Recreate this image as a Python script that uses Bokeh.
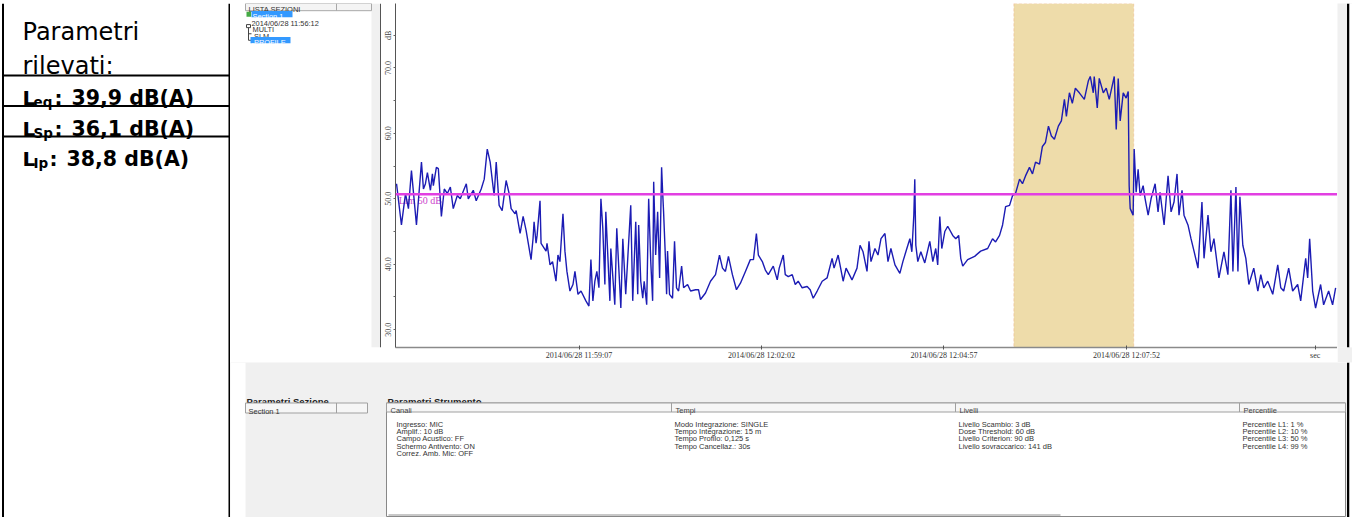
from bokeh.plotting import figure
from bokeh.layouts import row, column
from bokeh.models import Range1d, FixedTicker, BoxAnnotation, Span
from bokeh.core.properties import value
from bokeh.embed import file_html
from bokeh.resources import INLINE

# ---------------- data ----------------
t_sec = [1, 5.7, 9.6, 12.4, 15.3, 20.1, 24.9, 26.8, 28.7, 30.6, 33.5, 35.4, 36.3, 39.2, 41.1, 44, 46.8, 49.7,
         52.6, 55.4, 59.3, 62.1, 67.9, 69.8, 74.6, 77.4, 82.2, 85.1, 88, 90.8, 92.7, 94.6, 96.6, 99.4, 102.3,
         106.1, 109, 110.9, 114.7, 115.7, 119.5, 122.4, 125.2, 130, 131.9, 132.9, 134.8, 135.8, 138.6, 139.6,
         144.4, 145.3, 148.2, 150.6, 153.9, 155.8, 157.7, 160.6, 162.5, 164.4, 167.3, 170.2, 172.1, 175, 177.9,
         182.6, 185.5, 187.4, 189.3, 191.2, 193.1, 195.1, 197, 198.8, 200.8, 201.7, 205.6, 206.5, 210.3, 212.2,
         216.1, 218, 220.8, 225.6, 227.5, 230.4, 232.3, 233.2, 235.2, 237.1, 238.5, 240.9, 242.8, 244.8, 246.6,
         247.6, 249.5, 251.4, 252.4, 253.3, 255.2, 256.2, 257.1, 259, 260, 260.9, 262.8, 265.7, 267.6, 269.5,
         271.5, 274.4, 276.3, 280.1, 283, 287.8, 290.6, 292.5, 297.3, 302.1, 306.9, 310.7, 313.6, 316.4, 319.3,
         323.1, 327, 330.8, 335.6, 340.3, 343.3, 346.1, 348, 351.8, 354.7, 357.5, 362.3, 366.1, 368, 371.9,
         373.8, 376.7, 380.5, 383.4, 386.2, 390, 394.8, 397.7, 400.6, 404.4, 409.2, 413.9, 418.7, 420.6, 424.5,
         429.3, 432.1, 437.8, 442.6, 445.5, 448.4, 452.2, 454.1, 456, 459.8, 462.7, 465.6, 469.4, 472.3, 475.1,
         479, 483.7, 486.6, 490.4, 493.3, 495.2, 497.1, 498, 499, 500.9, 503.8, 507.6, 512.4, 515.3, 518.1, 520,
         522, 523.9, 526.8, 529.6, 534.4, 537.3, 540.1, 542.1, 544, 548.7, 555.4, 561.2, 567.9, 572.6, 575.5,
         579.3, 582.2, 585.1, 588.9, 591.8, 594.6, 598.5, 601.3, 604.2, 608, 610.9, 613.8, 617.6, 620.4, 623.3,
         626.2, 629, 631.9, 635.7, 638.6, 641.5, 643.4, 646.3, 649.1, 652, 655.8, 660.6, 664.4, 666.3, 669.2,
         670.1, 673, 674.9, 678.8, 681.6, 684.5, 689.3, 691.2, 693.1, 695, 697.9, 700.7, 702.7, 703.6, 704.6,
         707.4, 708.4, 710.3, 712.2, 714.1, 717, 718.9, 721.8, 724.6, 728.5, 731.3, 733.2, 737.1, 740.9, 743.8,
         746.6, 749.5, 751.4, 754.3, 756.2, 760, 762.9, 765.8, 769.6, 773.4, 775.4, 779.2, 782, 784.9, 789.7,
         794.5, 798.3, 801.2, 803.1, 806, 807.9, 809.8, 812.6, 815.5, 818.4, 823.1, 827, 829.8, 832.7, 836.5,
         841.3, 846.1, 849, 851.8, 856.6, 860.4, 865.2, 868.1, 872.9, 874.8, 876.7, 879.6, 882.4, 887.2, 890.1,
         894.9, 898.7, 901.6]
level_db = [52.3, 46, 50.8, 48.5, 54.3, 46, 55.6, 51.5, 52.3, 54, 51.3, 53.8, 52.0, 54.8, 54.6, 47.3, 51.5, 50.8,
            51.8, 48.5, 50.5, 50, 52.3, 50, 51.3, 49.7, 51.5, 53, 57.6, 55.6, 53, 50.5, 55.6, 49, 48.2,
            52.8, 50.8, 48.5, 47.7, 48.2, 44.7, 47.3, 45.2, 40.7, 43.9, 46.5, 43.2, 44.4, 49.7, 43.2,
            42, 43.2, 39.9, 40.4, 37.4, 41.4, 40.4, 47.7, 42, 38.9, 35.9, 36.9, 38.9, 35.4, 35.9,
            34.4, 33.6, 40.7, 34.4, 37.4, 38.9, 36.4, 50, 45.5, 36.9, 48, 34.4, 42.4, 33.8, 45.5,
            33.3, 43.9, 35.4, 49, 34.4, 46.5, 35.4, 46, 37.4, 34.8, 37.4, 33.8, 50, 40.4, 34.4,
            52.6, 41.4, 48, 42.9, 37.9, 54.8, 51, 48, 40.4, 35.4, 42, 35.4, 34.8, 43.5, 36.4,
            35.9, 39.7, 36.4, 36.9, 35.9, 36.1, 36.1, 34.6, 35.6, 37.4, 38.4, 41.4, 39.4, 38.9, 41.2,
            38.4, 36.1, 37.1, 38.9, 40.7, 40.7, 44.7, 41.4, 40.4, 39.1, 38.4, 39.7, 37.6, 39.4, 41.4,
            38.4, 38.1, 38.4, 36.9, 37.4, 36.4, 36.6, 36.1, 34.8, 35.9, 37.4, 37.9, 40.9, 39.4, 41.4,
            37.4, 39.4, 37.6, 39.4, 42.9, 41.9, 38.9, 43.5, 40.4, 42.4, 41.4, 43.9, 44.7, 40.4, 42.4,
            39.9, 38.6, 40.4, 42.4, 43.9, 41.9, 47.5, 53, 42.9, 40.4, 41.9, 40.2, 43.5, 40.4, 42.4, 39.9,
            47.3, 42.4, 45, 45.8, 44.4, 43.9, 44.4, 40.9, 39.7, 40.7, 41.2, 42, 42.4, 43.9, 43.4,
            44.4, 46, 48.8, 49, 50.5, 50.8, 53, 52.3, 53.5, 54.8, 53.8, 55.6, 55.3, 58, 58.6,
            61.1, 59.6, 59.1, 61.1, 61.9, 65.2, 62.6, 66.2, 64.6, 66.9, 66.2, 65.2, 68, 68.7, 66.2,
            68.7, 63.9, 68.4, 66.2, 66.9, 65.2, 68.7, 60.6, 68.4, 61.9, 66.2, 65.4, 66.4, 52, 48.5,
            47.5, 57.6, 51, 54.5, 50.5, 52, 50, 47.5, 50, 52.3, 48, 51, 46, 53.5, 48,
            49.5, 53.8, 47.5, 51.3, 47.5, 46, 43.9, 42, 39.4, 49.5, 40.9, 47.5, 41.9, 43.9, 37.9,
            41.9, 38.4, 51.3, 38.9, 51.8, 38.9, 50.3, 42.9, 40.9, 36.9, 39.4, 35.9, 38.4, 36.4, 37.4,
            35.4, 39.9, 36.4, 35.9, 39.4, 35.9, 36.9, 34.4, 40.9, 37.9, 43.9, 35.9, 33.3, 36.9, 33.8,
            35.9, 33.8, 36.4]

limit_db = 50.7
selection_sec = [593, 708]
x_tick_sec = [176, 351, 526, 701, 882]
x_tick_labels = ["2014/06/28 11:59:07", "2014/06/28 12:02:02", "2014/06/28 12:04:57", "2014/06/28 12:07:52", "sec"]
y_tick_db = [30, 40, 50, 60, 70, 75]
y_tick_labels = ["30.0", "40.0", "50.0", "60.0", "70.0", "dB"]
y_minor_db = [35, 45, 55, 65]

param_names = ["L", "L", "L"]
param_subs = ["eq", "Sp", "Ip"]
param_values = ["39,9 dB(A)", "36,1 dB(A)", "38,8 dB(A)"]

canali = ["Ingresso: MIC", "Amplif.: 10 dB", "Campo Acustico: FF", "Schermo Antivento: ON", "Correz. Amb. Mic: OFF"]
tempi = ["Modo Integrazione: SINGLE", "Tempo Integrazione:  15 m", "Tempo Profilo: 0,125 s", "Tempo Cancellaz.: 30s"]
livelli = ["Livello Scambio:  3 dB", "Dose Threshold: 60 dB", "Livello Criterion:    90 dB", "Livello sovraccarico: 141 dB"]
percentile = ["Percentile L1:  1 %", "Percentile L2:  10 %", "Percentile L3:  50 %", "Percentile L4:  99 %"]
tree_items = ["Section 1", "2014/06/28 11:56:12", "MULTI", "-SLM", "-PROFILE"]

GREY = "#f0f0f0"
W, H = 1352, 517


def deco(x0, x1, y0, y1, bg="white"):
    f = figure(width=int(round(x1 - x0)), height=int(round(y1 - y0)),
               x_range=Range1d(x0, x1), y_range=Range1d(y1, y0),
               toolbar_location=None, output_backend="svg", min_border=0,
               x_axis_location=None, y_axis_location=None,
               background_fill_color=bg, border_fill_color=bg, outline_line_color=None)
    f.xgrid.visible = False
    f.ygrid.visible = False
    return f


def box(f, l, r, t, b, fill, line=None, lw=1):
    f.quad(left=[l], right=[r], top=[t], bottom=[b], fill_color=fill,
           line_color=line, line_width=lw)


def txt(f, x, y, s, size, color="#222222", font="Liberation Sans", style="normal",
        align="left", baseline="alphabetic"):
    f.text(x=[x], y=[y], text=[s], text_font=value(font), text_font_size=value(size),
           text_font_style=style, text_color=color, text_align=align, text_baseline=baseline)


TOP = 3
SPLIT = 362

# ---------------- top border ----------------
topbar = deco(0, W, 0, TOP, bg="black")

# ---------------- left column ----------------
left = deco(0, 230, TOP, H)
box(left, 1.5, 3.5, TOP, H, "black")
box(left, 228, 230, TOP, H, "black")
for yy in [75, 105.5, 136]:
    box(left, 1.5, 229, yy - 1, yy + 1, "black")
txt(left, 22, 31.5, "Parametri", "24px", "#000000", "DejaVu Sans")
txt(left, 22, 65, "rilevati:", "24px", "#000000", "DejaVu Sans")
base_y = [97.3, 128.3, 158.3]
sub_x = [33, 33, 33]
colon_x = [54, 54, 49]
val_x = [71, 71, 66]
for i in range(3):
    txt(left, 22, base_y[i], param_names[i], "20px", "#000000", "DejaVu Sans", "bold")
    txt(left, sub_x[i], base_y[i] + 4, param_subs[i], "13.5px", "#000000", "DejaVu Sans", "bold")
    txt(left, colon_x[i], base_y[i], ":", "20px", "#000000", "DejaVu Sans", "bold")
    txt(left, val_x[i], base_y[i], param_values[i], "20.5px", "#000000", "DejaVu Sans", "bold")

# ---------------- section list panel ----------------
lista = deco(230, 381, TOP, SPLIT)
box(lista, 371, 379.5, TOP, SPLIT, GREY)
box(lista, 379.5, 381, TOP, SPLIT, "#555555")
box(lista, 245, 371, TOP, 10.5, "#f4f4f4", "#a8a8a8", 1)
lista.segment(x0=[336], y0=[TOP], x1=[336], y1=[10.5], line_color="#a8a8a8")
txt(lista, 248, 9.3, "LISTA SEZIONI", "7.5px", "#333333")
tree_y = [14.2, 21, 27.8, 34.6, 41.4]
box(lista, 246, 250.5, tree_y[0] - 2.5, tree_y[0] + 2.5, "#44aa44")
box(lista, 251, 292, tree_y[0] - 3.4, tree_y[0] + 3.2, "#3399ff")
txt(lista, 252, tree_y[0] + 2.6, tree_items[0], "7.4px", "white")
txt(lista, 251, tree_y[1] + 2.6, tree_items[1], "7.4px", "#333333")
box(lista, 246, 250, tree_y[2] - 2.8, tree_y[2] + 0.4, "white", "#444444", 1)
lista.segment(x0=[248, 248, 248], y0=[tree_y[2] + 0.4, tree_y[3], tree_y[4]],
              x1=[248, 251, 251], y1=[tree_y[4], tree_y[3], tree_y[4]], line_color="#444444")
txt(lista, 252, tree_y[2] + 2.6, tree_items[2], "7.4px", "#333333")
txt(lista, 251, tree_y[3] + 2.6, tree_items[3], "7.4px", "#333333")
box(lista, 250, 290, tree_y[4] - 3.4, tree_y[4] + 3.2, "#3399ff")
txt(lista, 251, tree_y[4] + 2.6, tree_items[4], "7.4px", "white")

# ---------------- chart ----------------
chart = figure(width=1337 - 381, height=SPLIT - TOP, x_range=Range1d(0, 903.4), y_range=Range1d(27.27, 79.85),
               toolbar_location=None, output_backend="svg",
               min_border=0, min_border_left=11, min_border_bottom=12,
               background_fill_color="white", border_fill_color="white", outline_line_color=None)
chart.xgrid.visible = False
chart.ygrid.visible = False
chart.add_layout(BoxAnnotation(left=selection_sec[0], right=selection_sec[1], fill_color="#eedcaa",
                               fill_alpha=1, line_color="#e8905a", line_dash="3 2", line_width=1,
                               level="underlay"))
chart.add_layout(Span(location=limit_db, dimension="width", line_color="#e23fe2", line_width=2.5))
chart.text(x=[3], y=[limit_db - 0.9], text=["Lim 50 dB"], text_font=value("Liberation Serif"),
           text_font_size=value("10px"), text_color="#cc44cc", text_baseline="middle")
chart.line(t_sec, level_db, line_color="#1c1cb4", line_width=1.4)

xa = chart.xaxis[0]
xa.ticker = FixedTicker(ticks=x_tick_sec)
xa.major_label_overrides = {k: v for k, v in zip(x_tick_sec, x_tick_labels)}
xa.axis_line_color = "#8a8a8a"
xa.axis_line_width = 1.5
xa.major_tick_in = 2
xa.major_tick_out = 2
xa.major_tick_line_color = "#555555"
xa.minor_tick_in = 0
xa.minor_tick_out = 0
xa.major_label_standoff = 1
xa.major_label_text_font = "Liberation Serif"
xa.major_label_text_font_size = "8px"
xa.major_label_text_color = "#333333"

ya = chart.yaxis[0]
ya.ticker = FixedTicker(ticks=y_tick_db, minor_ticks=y_minor_db)
ya.major_label_overrides = {k: v for k, v in zip(y_tick_db, y_tick_labels)}
ya.axis_line_color = "#555555"
ya.major_tick_in = 0
ya.major_tick_out = 2
ya.minor_tick_in = 0
ya.minor_tick_out = 2
ya.major_tick_line_color = "#666666"
ya.minor_tick_line_color = "#666666"
ya.major_label_orientation = "vertical"
ya.major_label_standoff = 0
ya.major_label_text_font = "Liberation Serif"
ya.major_label_text_font_size = "8px"
ya.major_label_text_color = "#444444"

rstrip = deco(1337, W, TOP, SPLIT, bg=GREY)
box(rstrip, 1346.5, 1349, TOP, SPLIT, "black")
box(rstrip, 1349, W, TOP, SPLIT, "white")

# ---------------- bottom parameter panel ----------------
bottom = deco(230, W, SPLIT, H, bg=GREY)
box(bottom, 230, 245, SPLIT, H, "white")
box(bottom, 1346.5, 1349, SPLIT, H, "black")
box(bottom, 1349, W, SPLIT, H, "white")
txt(bottom, 246, 400.5, "Parametri Sezione", "9.5px", "#222222", style="bold")
txt(bottom, 387, 400.5, "Parametri Strumento", "9.5px", "#222222", style="bold")
box(bottom, 245, 367, 402.5, 412.5, "#f6f6f6", "#a0a0a0", 1)
bottom.segment(x0=[336], y0=[402.5], x1=[336], y1=[412.5], line_color="#a0a0a0")
txt(bottom, 248, 410.5, "Section 1", "7.5px", "#333333")
box(bottom, 386, 1345, 402.5, 516, "white", "#888888", 1)
box(bottom, 386, 1345, 402.5, 411.5, "#f6f6f6", "#a0a0a0", 1)
col_x = [386, 671, 955, 1239]
bottom.segment(x0=col_x[1:], y0=[402.5] * 3, x1=col_x[1:], y1=[411.5] * 3, line_color="#a0a0a0")
for cx, head in zip(col_x, ["Canali", "Tempi", "Livelli", "Percentile"]):
    txt(bottom, cx + 4, 409.5, head, "7.5px", "#444444")
row_y = [424, 431.2, 438.4, 445.6, 452.8]
for items, cx in [(canali, 396), (tempi, 674), (livelli, 958), (percentile, 1242)]:
    for j, s in enumerate(items):
        txt(bottom, cx, row_y[j], s, "7.5px", "#333333")
bottom.segment(x0=[388], y0=[514.5], x1=[1060], y1=[514.5], line_color="#c8c8c8", line_width=2)

layout = column(topbar,
                row(left, column(row(lista, chart, rstrip, spacing=0), bottom, spacing=0), spacing=0),
                spacing=0)

open("out.html", "w").write(file_html(layout, INLINE))
